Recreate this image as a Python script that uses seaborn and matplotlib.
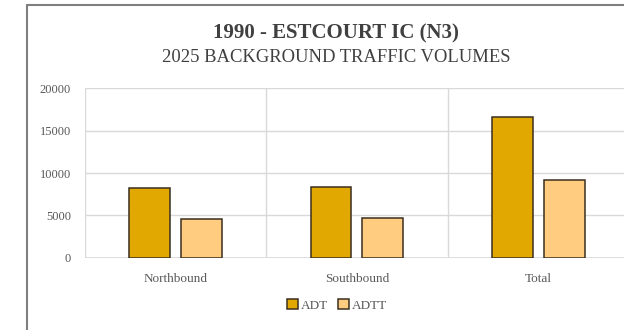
import numpy as np
import pandas as pd
import seaborn as sns
import matplotlib.pyplot as plt
from matplotlib.lines import Line2D

# data
directions = ['Northbound', 'Southbound', 'Total']
adt = [8270, 8310, 16580]
adtt = [4530, 4700, 9220]
yticks = [0, 5000, 10000, 15000, 20000]

df = pd.DataFrame({
    'direction': directions * 2,
    'volume': adt + adtt,
    'type': ['ADT'] * 3 + ['ADTT'] * 3,
})

sns.set_style('white')
plt.rcParams['font.family'] = ['Liberation Serif', 'DejaVu Serif']

fig = plt.figure(figsize=(6.24, 3.3), dpi=100)
ax = fig.add_axes([0.136, 0.219, 0.872, 0.513])

palette = {'ADT': '#E0A800', 'ADTT': '#FFCC80'}
sns.barplot(data=df, x='direction', y='volume', hue='type', palette=palette,
            width=0.572, gap=0.21, edgecolor='#3b2f1e', linewidth=1.1,
            saturation=1, ax=ax)

ax.set_ylim(0, 20000)
ax.set_xlim(-0.5, 2.5)
ax.set_yticks(yticks)
ax.yaxis.grid(True, color='#d9d9d9', linewidth=1)
for xv in [-0.5, 0.5, 1.5, 2.5]:
    ax.axvline(xv, color='#d9d9d9', linewidth=1, zorder=0)
ax.set_axisbelow(True)
for s in ax.spines.values():
    s.set_visible(False)
ax.axhline(0, color='#d9d9d9', linewidth=1.2, zorder=0)
ax.set_xlabel('')
ax.set_ylabel('')
ax.tick_params(axis='y', labelsize=9, colors='#595959', length=0, pad=10)
ax.tick_params(axis='x', labelsize=9.5, colors='#595959', length=0, pad=11)

ax.legend_.remove()
handles = [plt.Rectangle((0, 0), 1, 1, facecolor=palette[k], edgecolor='#3b2f1e', linewidth=1.1)
           for k in ['ADT', 'ADTT']]
fig.legend(handles, ['ADT', 'ADTT'], loc='center', bbox_to_anchor=(0.54, 0.075),
           ncol=2, frameon=False, fontsize=9.5, handlelength=0.8, handleheight=0.8,
           handletextpad=0.2, columnspacing=0.8, labelcolor='#595959')

fig.text(0.539, 0.9, '1990 - ESTCOURT IC (N3)', ha='center', va='center',
         fontsize=15, fontweight='bold', color='#404040')
fig.text(0.539, 0.826, '2025 BACKGROUND TRAFFIC VOLUMES', ha='center', va='center',
         fontsize=13.4, color='#404040')

# outer chart frame (left and top edges visible)
fig.add_artist(Line2D([0.044, 0.044], [0, 0.985], color='#7f7f7f', linewidth=1.5,
                      transform=fig.transFigure))
fig.add_artist(Line2D([0.044, 1.0], [0.985, 0.985], color='#7f7f7f', linewidth=1.5,
                      transform=fig.transFigure))

fig.savefig('out.png', dpi=100, facecolor='white')
